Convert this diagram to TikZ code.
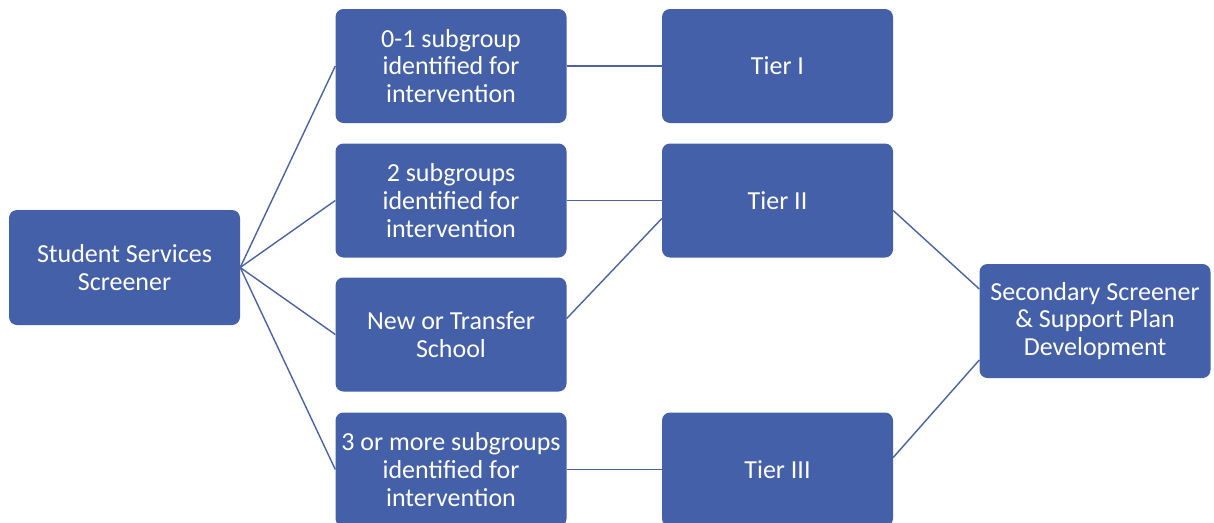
\documentclass[tikz,border=0pt]{standalone}
\usepackage{fontspec}
\setmainfont{Carlito}
\definecolor{boxblue}{HTML}{4460A8}
\definecolor{linkblue}{HTML}{4A62A6}
\begin{document}
\begin{tikzpicture}[x=1pt,y=-1pt,
  box/.style={draw=none, fill=boxblue, rounded corners=8pt,
    minimum width=231pt, minimum height=114pt, inner sep=2pt,
    align=center, text=white, font=\fontsize{26}{27.8}\selectfont},
  link/.style={draw=linkblue, line width=1.4pt}]
\useasboundingbox (0,0) rectangle (1214,522);
\clip (0,0) rectangle (1214,522);

% first level
\node[box, minimum height=115pt] (root) at (124.5,267.5) {Student Services\\Screener};

% second level
\node[box] (g01) at (451,66) {0-1 subgroup\\identified for\\intervention};
\node[box] (g2)  at (451,200.5) {2 subgroups\\identified for\\intervention};
\node[box] (nt)  at (451,334.5) {New or Transfer\\School};
\node[box] (g3)  at (451,469.5) {3 or more subgroups\\identified for\\intervention};

% tiers
\node[box] (t1) at (777.5,66) {Tier I};
\node[box] (t2) at (777.5,200.5) {Tier II};
\node[box] (t3) at (777.5,469.5) {Tier III};

% follow-up
\node[box] (sec) at (1095,321) {Secondary Screener\\\& Support Plan\\Development};

% connectors
\draw[link] (root.east) -- (g01.west);
\draw[link] (root.east) -- (g2.west);
\draw[link] (root.east) -- (nt.west);
\draw[link] (root.east) -- (g3.west);

\draw[link] (g01.east) -- (t1.west);
\draw[link] (g2.east) -- (t2.west);
\draw[link] ([yshift=16pt]nt.east) -- ([yshift=-18pt]t2.west);
\draw[link] (g3.east) -- (t3.west);

\draw[link] ([yshift=-10pt]t2.east) -- ([yshift=32pt]sec.west);
\draw[link] ([yshift=12pt]t3.east) -- ([yshift=-39pt]sec.west);
\end{tikzpicture}
\end{document}
